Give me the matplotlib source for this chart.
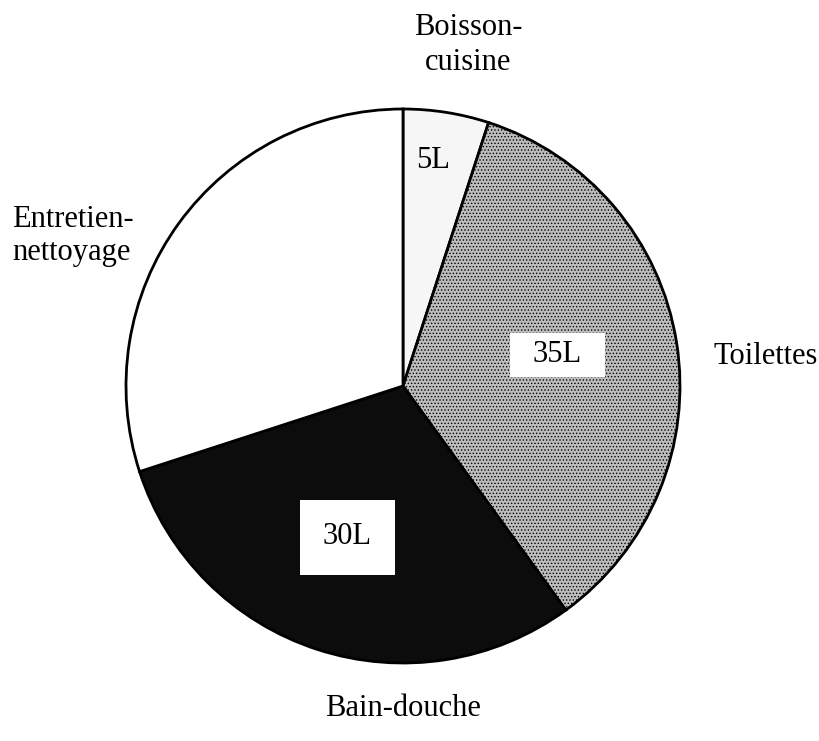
import matplotlib.pyplot as plt
from matplotlib.patches import Rectangle

plt.rcParams['font.family'] = ['Liberation Serif', 'DejaVu Serif']
plt.rcParams['hatch.linewidth'] = 0.6

# consommation d'eau par personne et par jour (litres)
categories = ['Boisson-\ncuisine', 'Toilettes', 'Bain-douche', 'Entretien-\nnettoyage']
valeurs = [5, 35, 30, 30]
etiquettes = ['5L', '35L', '30L', '']

W, H = 820, 741

def py(y):
    """convertit une ordonnee pixel (haut -> bas) en ordonnee du graphe"""
    return H - y

fig = plt.figure(figsize=(W / 100, H / 100), dpi=100)
ax = fig.add_axes([0, 0, 1, 1])

couleurs = ['#f6f6f6', '#bdbdbd', '#0c0c0c', 'white']
hachures = [None, '.....', None, None]

wedges, _ = ax.pie(valeurs, startangle=90, counterclock=False,
                   center=(403, py(386)), radius=277, colors=couleurs,
                   wedgeprops=dict(edgecolor='black', linewidth=2))
for w, h in zip(wedges, hachures):
    if h:
        w.set_hatch(h)

ax.set_xlim(0, W)
ax.set_ylim(0, H)
ax.set_aspect('equal')
ax.axis('off')

# cases blanches des etiquettes
ax.add_patch(Rectangle((510, py(377)), 95, 44, facecolor='white', edgecolor='none', zorder=3))
ax.add_patch(Rectangle((300, py(575)), 95, 75, facecolor='white', edgecolor='none', zorder=3))

pos_etiq = [(433, 160), (557, 355), (347, 537)]
for (x, y), t in zip(pos_etiq, etiquettes):
    ax.text(x, py(y), t, fontsize=22, ha='center', va='center', zorder=4)

# noms des postes autour du camembert
ax.text(468, py(45), categories[0], fontsize=22, ha='center', va='center', linespacing=1.3)
ax.text(766, py(357), categories[1], fontsize=22, ha='center', va='center')
ax.text(403, py(708), categories[2], fontsize=22, ha='center', va='center')
ax.text(12, py(236), categories[3], fontsize=22, ha='left', va='center', linespacing=1.2)

fig.savefig('out.png', dpi=100)
